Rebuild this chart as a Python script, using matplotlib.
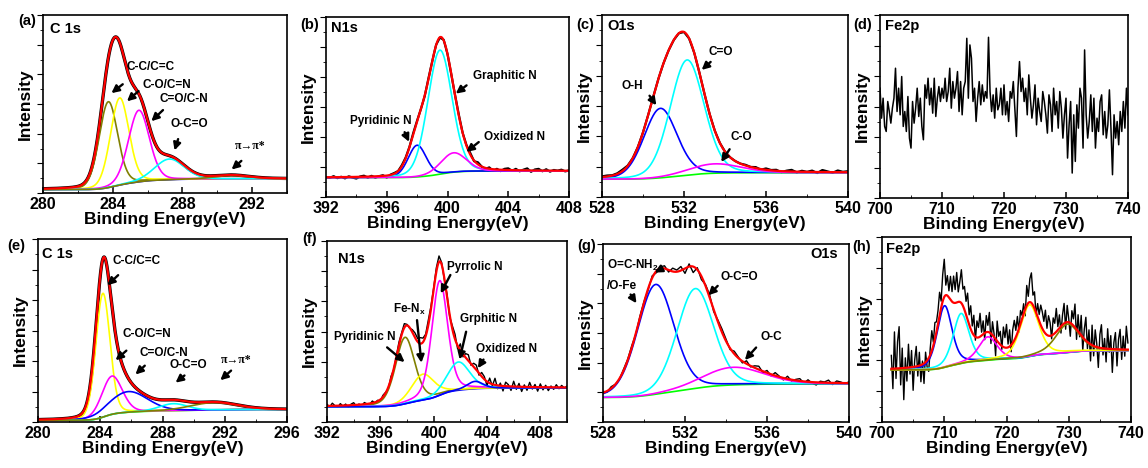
import numpy as np
import matplotlib
matplotlib.use('Agg')
import matplotlib.pyplot as plt
from matplotlib.ticker import MultipleLocator, AutoMinorLocator
from math import erf

# ---- data (intensities in arbitrary units) ----
# (a) C 1s, sample 1
a_centers = [283.75, 284.4, 285.5, 287.25, 290.8]
a_heights = [258, 262, 215, 62, 10]
a_fwhm = [1.25, 1.25, 1.41, 2.0, 2.35]
a_bg = [10, 43]

# (b) N1s, sample 1 : pyridinic, graphitic, oxidized
b_centers = [398.0, 399.5, 400.4]
b_heights = [95, 372, 58]
b_fwhm = [1.4, 1.88, 2.0]
b_bg = [58, 78]
b_resid = [0, -2, 3, -3, 1, -4, 2, -2, -5, 1, 3, -3, 2, -4, 0, 2, -6, 1,
           2, 0, 3, 2, 1, 4, 2, 0, -2, 3, 0, 1, -1, 2, 0, -2, 1, 3, 0, 2, 5,
           -2, 6, 0, -3, 4, -5, 2, -4, 3, 5, -2, 4, -3, 2, 6, -4, 3, 5, -2, 4,
           -3, 2, 0, 3, -2, 1]

# (c) O1s, sample 1 : O-H, C=O, C-O
c_centers = [530.85, 532.15, 533.5]
c_heights = [208, 345, 28]
c_fwhm = [1.9, 1.95, 3.0]
c_bg = [53, 73]
c_resid = [2, 3, 1, 2, 4, 1, 0, 0, 0, 0, 0, 0, 0, 0, 0, 0, 0, 0, 0, 0, 0, 0,
           0, 0, 0, 0, 0, 0, 2, 0, 3, -2, 4, 1, 3, -3, 2, 5, -2, 3, 0, 4, -3,
           6, 2, -2, 5, 1, 3]

# (d) Fe2p, sample 1 (raw counts, 700-740 eV)
d_counts = [330, 240, 300, 215, 200, 290, 260, 225, 270, 300,
            390, 260, 330, 250, 365, 215, 260, 200, 305, 180,
            150, 290, 225, 270, 330, 245, 300, 215, 175, 340,
            300, 360, 280, 330, 255, 360, 245, 300, 335, 290,
            330, 300, 360, 290, 320, 390, 270, 350, 300, 330,
            380, 260, 350, 250, 330, 350, 480, 300, 460, 420,
            290, 330, 230, 300, 350, 280, 340, 290, 320, 300,
            483, 320, 260, 310, 240, 330, 265, 280, 330, 250,
            340, 250, 290, 230, 320, 300, 350, 270, 185, 330,
            410, 320, 360, 290, 330, 250, 370, 300, 240, 280,
            340, 220, 300, 260, 230, 320, 290, 250, 195, 310,
            280, 200, 330, 250, 290, 210, 320, 270, 180, 250,
            300, 120, 220, 290, 75, 250, 110, 280, 210, 330,
            300, 150, 445, 250, 180, 230, 310, 200, 300, 150,
            240, 200, 290, 310, 190, 260, 180, 220, 325, 210,
            70, 250, 180, 230, 160, 260, 200, 290, 210, 330,
            250]

# (e) C 1s, sample 2 : C-C, C-O, C=O, O-C=O, pi-pi*
e_centers = [284.17, 284.75, 285.8, 288.7, 291.3]
e_heights = [372, 115, 62, 21, 22]
e_fwhm = [1.07, 1.55, 2.9, 2.1, 3.5]
e_bg = [5, 38]

# (f) N1s, sample 2 : pyridinic, Fe-Nx, pyrrolic, graphitic, oxidized
f_centers = [397.85, 399.2, 400.45, 401.85, 403.1]
f_heights = [200, 78, 345, 85, 22]
f_fwhm = [1.7, 2.0, 1.4, 2.0, 1.4]
f_bg = [45, 103]
f_resid = [5, -3, 8, 0, -5, 6, -2, 4, -6, 3, 7, -4, 2, -5, 5, 0, -3, 6, -2, 3,
           -4, 5, 2, -6, 8, -3, 4, 10, 6, 12, 3, -2, 8, 14, 10, 18, 12, 6, 15, 8,
           5, 12, 18, 6, -4, 8, -6, 10, 15, -10, 20, -8, 12, 18, -5, 10, 14, -6, 12, 8,
           -12, 15, -5, 20, -10, 8, -15, 12, 5, -12, 16, -8, 10, -14, 6, -10, 14, -6, 8, -12,
           10, -8, 6, -10, 4, -6, 8, -4, 6, -2, 4]

# (g) O1s, sample 2 : O=C-NH2/O-Fe, O-C=O, O-C
g_centers = [530.57, 532.5, 534.35]
g_heights = [330, 300, 53]
g_fwhm = [2.1, 2.1, 3.5]
g_bg = [73, 115]
g_resid = [4, -3, 5, 0, -2, 4, 3, 6, -2, 5,
           3, -4, 6, -5, 4, 8, -6, 10, 5, 12,
           -15, 8, -18, 6, -10, 4, 8, -6, 5, 10,
           6, -4, 8, 3, -5, 9, -3, 6, 10, -4,
           7, -5, 9, 2, -6, 8, -4, 3, 7, -5,
           6, -3, -8, 4, 2, 8, -5, 6, 3, -2, 4]

# (h) Fe2p, sample 2
h_centers = [710.05, 712.7, 717.0, 723.7, 729.8]
h_heights = [185, 150, 70, 155, 85]
h_fwhm = [2.8, 3.0, 3.5, 3.5, 4.5]
h_bg = [155, 215]
h_resid = [40, -60, 110, -30, 80, 125, -50, 60, -95, 30,
           -40, 70, -20, 50, -70, 20, 60, -30, 40, -50,
           10, -60, 30, -20, -40, 20, 60, 10, 50, 30,
           40, 70, 20, 80, 113, 30, 60, 20, 70, 30,
           80, 40, 90, 30, 60, 100, 50, 70, 40, 80,
           30, 70, 20, 60, -10, 50, 30, 70, 10, 40,
           -20, 50, 20, 60, -30, 40, 10, -50, 60, 20,
           40, -10, 60, 30, 70, 10, 50, -20, 40, 60,
           20, 50, -10, 40, 10, 30, -20, 60, 20, 70,
           90, 30, 50, -10, 40, 20, 60, 50, 30, 70,
           20, 60, 40, -10, 50, 30, 70, 10, 40, -20,
           30, 60, -20, 50, 10, -40, 40, 20, 70, -30,
           50, -10, 60, -40, 30, 70, -20, 40, -50, 60,
           -30, 50, 10, -60, 40, 70, -20, 30, -40, 60,
           -10, 40, -70, 20, 50, -50, 30, 60, -30, 40,
           -20, 70, 20]

# ---- style ----
plt.rcParams['font.family'] = 'Liberation Sans'
plt.rcParams['font.weight'] = 'bold'
plt.rcParams['axes.labelweight'] = 'bold'
plt.rcParams['axes.linewidth'] = 1.2
plt.rcParams['mathtext.fontset'] = 'custom'
plt.rcParams['mathtext.rm'] = 'Liberation Sans:bold'

OL, YE, MA, CY, BL, GR, RD = '#808000', '#ffff00', '#ff00ff', '#00ffff', '#0000ff', '#00ff00', '#ff0000'
verf = np.vectorize(erf)


def pv(x, c, a, w, eta):
    g = np.exp(-4 * np.log(2) * (x - c) ** 2 / w ** 2)
    l = 1 / (1 + 4 * (x - c) ** 2 / w ** 2)
    return a * ((1 - eta) * g + eta * l)


def pv_step(x, c, w, eta):
    s = w / 2.3548
    g = 0.5 * (1 + verf((x - c) / (s * np.sqrt(2))))
    l = 0.5 + np.arctan(2 * (x - c) / w) / np.pi
    return (1 - eta) * g + eta * l


def background(x, centers, heights, fwhm, bg, eta):
    wts = np.array(heights) * np.array(fwhm)
    st = sum(wt * pv_step(x, c, w, eta) for wt, c, w in zip(wts, centers, fwhm)) / wts.sum()
    return bg[0] + (bg[1] - bg[0]) * st


def envelope(x, centers, heights, fwhm, bg, eta):
    back = background(x, centers, heights, fwhm, bg, eta)
    return back + sum(pv(x, c, a, w, eta) for c, a, w in zip(centers, heights, fwhm))


def draw_fit(ax, x0, x1, centers, heights, fwhm, bg, eta, colors, bg_color, black=False):
    x = np.linspace(x0, x1, 800)
    back = background(x, centers, heights, fwhm, bg, eta)
    env = envelope(x, centers, heights, fwhm, bg, eta)
    if black:
        ax.plot(x, env, color='k', lw=2.4)
    ax.plot(x, back, color=bg_color, lw=1.2)
    for c, a, w, col in zip(centers, heights, fwhm, colors):
        ax.plot(x, back + pv(x, c, a, w, eta), color=col, lw=1.2)
    ax.plot(x, env, color=RD, lw=1.6)


def draw_raw(ax, x0, x1, resid, centers, heights, fwhm, bg, eta, lw=1.0):
    x = np.linspace(x0, x1, len(resid))
    y = envelope(x, centers, heights, fwhm, bg, eta) + np.array(resid)
    ax.plot(x, y, color='k', lw=lw)


W, H = 1148, 468
fig = plt.figure(figsize=(11.48, 4.68), dpi=100)


def add_ax(l, r, t, b):
    return fig.add_axes([l / W, 1 - b / H, (r - l) / W, (b - t) / H])


def style(ax, xlim, step, ymax):
    ax.set_xlim(xlim)
    ax.set_ylim(0, ymax)
    ax.xaxis.set_major_locator(MultipleLocator(step))
    ax.xaxis.set_minor_locator(AutoMinorLocator(2))
    ax.yaxis.set_major_locator(MultipleLocator(ymax / 6))
    ax.yaxis.set_minor_locator(AutoMinorLocator(2))
    ax.tick_params(axis='x', which='both', direction='in', labelsize=11.5, pad=3)
    ax.tick_params(axis='x', which='major', length=4, width=1.1)
    ax.tick_params(axis='x', which='minor', length=2.5)
    ax.tick_params(axis='y', which='both', direction='out', labelleft=False)
    ax.tick_params(axis='y', which='major', length=4)
    ax.tick_params(axis='y', which='minor', length=2.5)
    ax.set_xlabel('Binding Energy(eV)', fontsize=12.5, labelpad=0)
    ax.set_ylabel('Intensity', fontsize=12.5, labelpad=3)


def note(ax, text, tx, ty, tail, head, fs=8.5, family=None):
    ax.text(tx, ty, text, ha='center', va='center', fontsize=fs, fontweight='bold', family=family)
    ax.annotate('', xy=head, xytext=tail,
                arrowprops=dict(arrowstyle='-|>', color='k', lw=1.7, mutation_scale=11))


def letter(px, py, s):
    fig.text(px / W, 1 - py / H, s, fontsize=10.5, fontweight='bold', ha='center', va='center')


# (a)
ax = add_ax(43, 287, 15, 193)
draw_fit(ax, 280, 294, a_centers, a_heights, a_fwhm, a_bg, 0.15, [OL, YE, MA, CY, OL], BL, black=True)
style(ax, (280, 294), 4, 535)
ax.text(0.03, 0.92, 'C 1s', transform=ax.transAxes, fontsize=10.5, fontweight='bold', va='center')
note(ax, 'C-C/C=C', 286.2, 380, (284.7, 332), (283.8, 295))
note(ax, 'C-O/C=N', 287.1, 325, (285.6, 312), (284.7, 270))
note(ax, 'C=O/C-N', 288.1, 282, (287.0, 255), (286.1, 210))
note(ax, 'O-C=O', 288.4, 208, (287.8, 170), (287.5, 120))
note(ax, 'π→π*', 291.9, 140, (291.5, 102), (290.7, 65), family='Liberation Serif')
letter(27, 21, '(a)')

# (b)
ax = add_ax(326, 569, 17, 197)
draw_raw(ax, 392, 408, b_resid, b_centers, b_heights, b_fwhm, b_bg, 0.15, lw=1.6)
draw_fit(ax, 392, 408, b_centers, b_heights, b_fwhm, b_bg, 0.15, [BL, CY, MA], GR)
style(ax, (392, 408), 4, 540)
ax.text(0.02, 0.94, 'N1s', transform=ax.transAxes, fontsize=10.5, fontweight='bold', va='center')
note(ax, 'Graphitic N', 403.8, 362, (401.4, 340), (400.4, 305))
note(ax, 'Pyridinic N', 395.6, 228, (397.1, 202), (397.55, 158))
note(ax, 'Oxidized N', 404.4, 180, (402.2, 170), (401.1, 130))
letter(310, 25, '(b)')

# (c)
ax = add_ax(602, 848, 15, 197)
draw_raw(ax, 528, 540, c_resid, c_centers, c_heights, c_fwhm, c_bg, 0.15, lw=1.6)
draw_fit(ax, 528, 540, c_centers, c_heights, c_fwhm, c_bg, 0.15, [BL, CY, MA], GR)
style(ax, (528, 540), 4, 545)
ax.text(0.02, 0.94, 'O1s', transform=ax.transAxes, fontsize=10.5, fontweight='bold', va='center')
note(ax, 'C=O', 533.8, 435, (533.4, 410), (532.76, 375))
note(ax, 'O-H', 529.5, 332, (530.24, 310), (530.73, 268))
note(ax, 'C-O', 534.8, 180, (534.3, 150), (533.74, 98))
letter(585, 25, '(c)')

# (d)
ax = add_ax(880, 1128, 15, 198)
ax.plot(np.linspace(700, 740, len(d_counts)), d_counts, color='k', lw=1.1)
style(ax, (700, 740), 10, 550)
ax.text(0.02, 0.94, 'Fe2p', transform=ax.transAxes, fontsize=10.5, fontweight='bold', va='center')
letter(863, 25, '(d)')

# (e)
ax = add_ax(38, 287, 239, 422)
draw_fit(ax, 280, 296, e_centers, e_heights, e_fwhm, e_bg, 0.15, [YE, MA, BL, CY, OL], GR, black=True)
style(ax, (280, 296), 4, 550)
ax.text(0.016, 0.92, 'C 1s', transform=ax.transAxes, fontsize=10.5, fontweight='bold', va='center')
note(ax, 'C-C/C=C', 286.35, 485, (285.28, 447), (284.32, 405))
note(ax, 'C-O/C=N', 286.99, 265, (285.81, 220), (284.85, 180))
note(ax, 'C=O/C-N', 288.06, 207, (286.99, 175), (286.13, 137))
note(ax, 'O-C=O', 289.66, 170, (289.55, 145), (288.7, 113))
note(ax, 'π→π*', 292.76, 187, (292.54, 160), (291.58, 120), family='Liberation Serif')
letter(16, 246, '(e)')

# (f)
ax = add_ax(327, 567, 241, 422)
draw_raw(ax, 392, 410, f_resid, f_centers, f_heights, f_fwhm, f_bg, 0.3)
draw_fit(ax, 392, 410, f_centers, f_heights, f_fwhm, f_bg, 0.3, [OL, YE, MA, CY, BL], BL)
style(ax, (392, 410), 4, 545)
ax.text(0.045, 0.90, 'N1s', transform=ax.transAxes, fontsize=10.5, fontweight='bold', va='center')
note(ax, 'Pyrrolic N', 403.05, 467, (401.35, 450), (400.43, 380))
note(ax, r'Fe-N$_{\mathrm{x}}$', 398.15, 340, (398.73, 315), (399.1, 170))
note(ax, 'Grphitic N', 404.1, 310, (402.48, 280), (401.9, 180))
note(ax, 'Pyridinic N', 394.8, 255, (396.35, 230), (397.98, 175))
note(ax, 'Oxidized N', 405.5, 220, (403.85, 195), (403.2, 155))
letter(310, 239, '(f)')

# (g)
ax = add_ax(603, 849, 244, 422)
draw_raw(ax, 528, 540, g_resid, g_centers, g_heights, g_fwhm, g_bg, 0.15)
draw_fit(ax, 528, 540, g_centers, g_heights, g_fwhm, g_bg, 0.15, [BL, CY, MA], GR)
style(ax, (528, 540), 4, 535)
ax.text(0.955, 0.944, 'O1s', transform=ax.transAxes, fontsize=10.5, fontweight='bold', va='center', ha='right')
note(ax, r'O=C-NH$_{\mathrm{2}}$', 529.45, 470, (530.9, 462), (530.4, 445))
note(ax, '/O-Fe', 528.94, 410, (529.27, 390), (529.71, 350))
note(ax, 'O-C=O', 534.67, 435, (533.69, 415), (533.04, 375))
note(ax, 'O-C', 536.2, 255, (535.56, 230), (534.83, 180))
letter(587, 246, '(g)')

# (h)
ax = add_ax(882, 1131, 237, 422)
draw_raw(ax, 701.5, 739.5, h_resid, h_centers, h_heights, h_fwhm, h_bg, 0.4)
draw_fit(ax, 701.5, 739.5, h_centers, h_heights, h_fwhm, h_bg, 0.4, [BL, CY, MA, YE, OL], GR)
style(ax, (700, 740), 10, 555)
ax.text(0.015, 0.937, 'Fe2p', transform=ax.transAxes, fontsize=10.5, fontweight='bold', va='center')
letter(862, 247, '(h)')

fig.savefig('out.png', dpi=100)
